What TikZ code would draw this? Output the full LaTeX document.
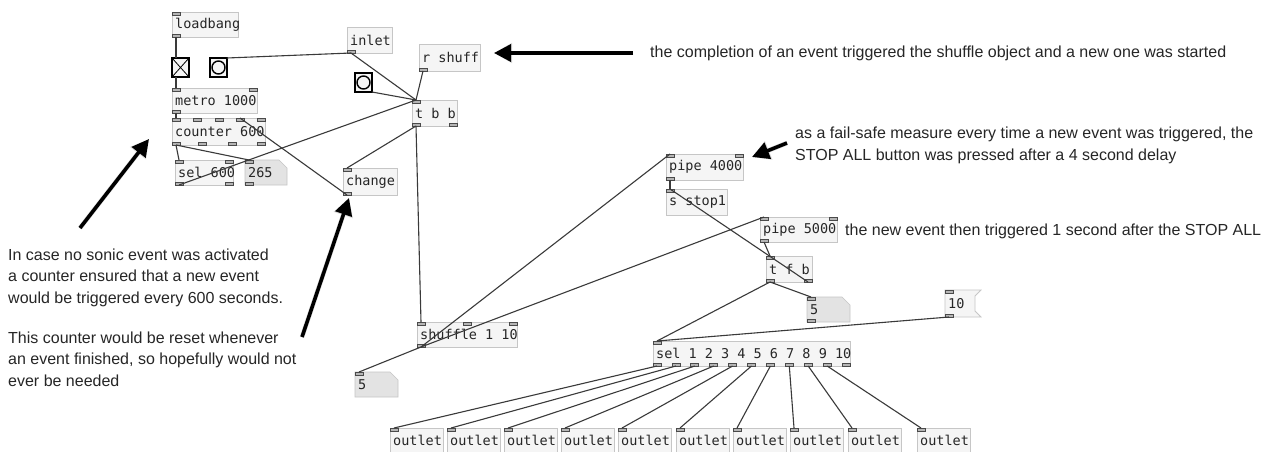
\documentclass[tikz,border=0pt]{standalone}
\usepackage{fontspec}
\setmainfont{Liberation Sans}
\newfontfamily\pdmono{DejaVu Sans Mono}
\usetikzlibrary{arrows.meta,calc}

\definecolor{boxline}{HTML}{C6C6C6}
\definecolor{boxfill}{HTML}{F5F5F5}
\definecolor{numfill}{HTML}{E3E3E3}
\definecolor{portline}{HTML}{4A4A4A}
\definecolor{portfill}{HTML}{B5B5B5}
\definecolor{wirecol}{HTML}{3A3A3A}

\tikzset{
  objbox/.style={draw=boxline, fill=boxfill, line width=0.8pt, inner sep=0pt, outer sep=0pt, anchor=north west},
  ghost/.style={inner sep=0pt, outer sep=0pt, anchor=north west},
  objtext/.style={font=\pdmono\fontsize{13.5}{14}\selectfont, text=black!85, anchor=west, inner sep=0pt},
  port/.style={draw=portline, fill=portfill, line width=0.7pt, minimum width=8pt, minimum height=3pt, inner sep=0pt, outer sep=0pt},
  wire/.style={draw=wirecol, line width=1.1pt},
  guibox/.style={draw=black, line width=1.8pt, fill=boxfill, inner sep=0pt, outer sep=0pt, anchor=north west},
  note/.style={font=\fontsize{16}{21.3}\selectfont, text=black!85, inner sep=0pt, anchor=base west, align=left},
  bigarrow/.style={line width=3.6pt, -{Triangle[length=17pt,width=17pt]}, black},
  arrowshade/.style={line width=4.6pt, -{Triangle[length=18pt,width=19pt]}, black!14, shift={(1.2pt,-1.5pt)}},
}

% object box: name, x, y, width, height, label
\newcommand\pdobj[6]{%
  \node[objbox, minimum width=#4pt, minimum height=#5pt] (#1) at (#2,#3) {};
  \node[objtext] (#1-t) at ($(#1.west)+(3pt,0)$) {#6};}
% number box with the cut corner
\newcommand\pdnum[6]{%
  \node[ghost, minimum width=#4pt, minimum height=#5pt] (#1) at (#2,#3) {};
  \filldraw[fill=numfill, draw=boxline, line width=0.6pt] (#1.north west) -- ($(#1.north east)+(-8pt,0)$)
     -- ($(#1.north east)+(0,-8pt)$) -- (#1.south east) -- (#1.south west) -- cycle;
  \node[objtext] (#1-t) at ($(#1.west)+(3pt,0)$) {#6};}
% message box with the flag edge
\newcommand\pdmsg[6]{%
  \node[ghost, minimum width=#4pt, minimum height=#5pt] (#1) at (#2,#3) {};
  \filldraw[fill=boxfill, draw=boxline, line width=0.8pt] (#1.north west) -- ($(#1.north east)+(3pt,0)$)
     -- ($(#1.north east)+(-3pt,-6pt)$) -- ($(#1.south east)+(-3pt,6pt)$) -- ($(#1.south east)+(3pt,0)$)
     -- (#1.south west) -- cycle;
  \node[objtext] (#1-t) at ($(#1.west)+(3pt,0)$) {#6};}
% inlets and outlets, given as offsets from the left edge
\newcommand\pdin[2]{\foreach \dx [count=\k from 0] in {#2}
  {\node[port, anchor=north west] (#1-i\k) at ($(#1.north west)+(\dx pt,0)$) {};}}
\newcommand\pdout[2]{\foreach \dx [count=\k from 0] in {#2}
  {\node[port, anchor=south west] (#1-o\k) at ($(#1.south west)+(\dx pt,0)$) {};}}
% thick pointer arrow with a soft shade
\newcommand\pointer[2]{\draw[arrowshade] (#1) -- (#2); \draw[bigarrow] (#1) -- (#2);}

\begin{document}
\begin{tikzpicture}[x=1pt,y=-1pt]
\useasboundingbox[fill=white] (0,0) rectangle (1268,452);

% ---- counter section
\pdobj{ld}{172}{12}{66}{25}{loadbang} \pdin{ld}{0} \pdout{ld}{0}
\node[guibox, minimum width=17pt, minimum height=19pt] (tg) at (172,58) {};
\draw[line width=0.8pt] (tg.north west) -- (tg.south east) (tg.north east) -- (tg.south west);
\node[guibox, minimum width=17pt, minimum height=19pt] (bg1) at (210,58) {};
\draw[line width=1.4pt] (bg1.center) circle (6.5pt);
\pdobj{mt}{172}{88}{85}{25}{metro 1000} \pdin{mt}{0,77} \pdout{mt}{0}
\pdobj{ct}{172}{118}{93}{27}{counter 600} \pdin{ct}{0,21,43,64,85} \pdout{ct}{0,26,56,85}
\pdobj{s6}{175}{160}{58}{25}{sel 600} \pdin{s6}{0,50} \pdout{s6}{0,50}
\pdnum{nA}{245}{160}{42}{25}{265} \pdin{nA}{0} \pdout{nA}{0}

% ---- trigger section
\pdobj{in}{347}{27}{45}{26}{inlet} \pdout{in}{0}
\pdobj{rs}{419}{44}{61}{27}{r shuff} \pdout{rs}{0}
\node[guibox, minimum width=17pt, minimum height=19pt] (bg2) at (355,73) {};
\draw[line width=1.4pt] (bg2.center) circle (6.5pt);
\pdobj{tbb}{412}{100}{45}{26}{t b b} \pdin{tbb}{0} \pdout{tbb}{0,37}
\pdobj{ch}{343}{168}{54}{27}{change} \pdin{ch}{0} \pdout{ch}{0}
\pdobj{sh}{417}{322}{100}{25}{shuffle 1 10} \pdin{sh}{0,46,92} \pdout{sh}{0}
\pdnum{nB}{355}{372}{43}{25}{5} \pdin{nB}{0}

% ---- delay section
\pdobj{p4}{666}{154}{77}{26}{pipe 4000} \pdin{p4}{0,69} \pdout{p4}{0}
\pdobj{ss}{666}{189}{61}{26}{s stop1} \pdin{ss}{0}
\pdobj{p5}{760}{217}{77}{25}{pipe 5000} \pdin{p5}{0,69} \pdout{p5}{0}
\pdobj{tfb}{766}{256}{46}{26}{t f b} \pdin{tfb}{0} \pdout{tfb}{0,38}
\pdnum{nC}{807}{297}{43}{25}{5} \pdin{nC}{0} \pdout{nC}{0}
\pdmsg{m10}{945}{290}{33}{27}{10} \pdin{m10}{0} \pdout{m10}{0}
\pdobj{sel}{653}{341}{197}{25}{sel 1 2 3 4 5 6 7 8 9 10} \pdin{sel}{0}
\pdout{sel}{0,18.9,37.8,56.7,75.6,94.5,113.4,132.3,151.2,170.1,189}

% ---- outlets
\foreach \xo [count=\j from 0] in {390,447,504,561,618,676,733,790,848,917}
  {\pdobj{out\j}{\xo}{428}{53}{24}{outlet} \pdin{out\j}{0}}

% ---- connections
\draw[wire] (ld-o0.south) -- (ld-o0.south |- tg.north);
\draw[wire] (mt-i0.north |- tg.south) -- (mt-i0.north);
\draw[wire] (mt-o0.south) -- (ct-i0.north);
\draw[wire] (ct-o0.south) -- (s6-i0.north);
\draw[wire] (ct-o0.south) -- (nA-i0.north);
\draw[wire] (s6-o0.south) -- (tbb-i0.north);
\draw[wire] (ch-o0.south) -- (ct-i3.north);
\draw[wire] (in-o0.south) -- (bg1.north east);
\draw[wire] (in-o0.south) -- (tbb-i0.north);
\draw[wire] (rs-o0.south) -- (tbb-i0.north);
\draw[wire] (bg2.south east) -- (tbb-i0.north);
\draw[wire] (tbb-o0.south) -- (ch-i0.north);
\draw[wire] (tbb-o0.south) -- (sh-i0.north);
\draw[wire] (sh-o0.south) -- (p4-i0.north);
\draw[wire] (sh-o0.south) -- (p5-i0.north);
\draw[wire] (sh-o0.south) -- (nB-i0.north);
\draw[wire] (p4-o0.south) -- (ss-i0.north);
\draw[wire] (tfb-o1.south) -- (ss-i0.north);
\draw[wire] (p5-o0.south) -- (tfb-i0.north);
\draw[wire] (tfb-o0.south) -- (nC-i0.north);
\draw[wire] (tfb-o0.south) -- (sel-i0.north);
\draw[wire] (m10-o0.south) -- (sel-i0.north);
\foreach \j in {0,...,9} {\draw[wire] (sel-o\j.south) -- (out\j-i0.north);}

% ---- annotations (node base = baseline of the last line)
\node[note] (c1) at (650,58) {the completion of an event triggered the shuffle object and a new one was started};
\coordinate (a1s) at (633,53); \coordinate (a1e) at (494,53);
\pointer{a1s}{a1e}

\node[note] (c2) at (795,160) {as a fail-safe measure every time a new event was triggered, the\\STOP ALL button was pressed after a 4 second delay};
\coordinate (a2s) at (787,143); \coordinate (a2e) at (752,157);
\pointer{a2s}{a2e}

\node[note] (c3) at (845,235) {the new event then triggered 1 second after the STOP ALL};

\node[note] (c4) at (8,303) {In case no sonic event was activated\\a counter ensured that a new event\\would be triggered every 600 seconds.};
\node[note] (c5) at (8,386) {This counter would be reset whenever\\an event finished, so hopefully would not\\ever be needed};
\coordinate (a3s) at (80,228); \coordinate (a3e) at (149,139);
\pointer{a3s}{a3e}
\coordinate (a4s) at (302,337); \coordinate (a4e) at (349,198);
\pointer{a4s}{a4e}
\end{tikzpicture}
\end{document}
